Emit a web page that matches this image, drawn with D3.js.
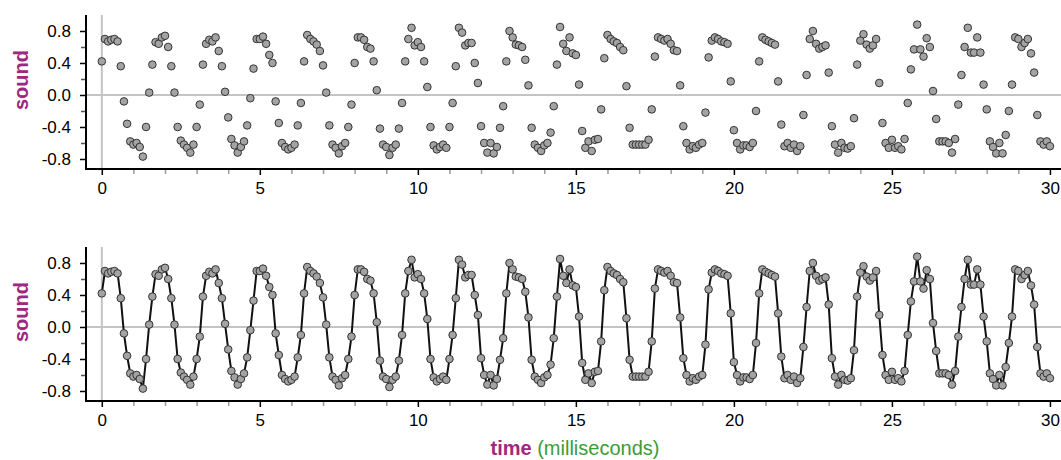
<!DOCTYPE html>
<html lang="en">
<head>
    <meta charset="UTF-8">
    <title>Sound samples</title>
    <script src="https://d3js.org/d3.v7.min.js"></script>
    <style>
        body { margin: 0; padding: 0; background: #fff; }
        svg { display: block; font-family: "Liberation Sans", Arial, sans-serif; }
        .tick text { font-size: 17px; fill: #000; }
    </style>
</head>
<body>
    <svg id="chart" width="1061" height="460"></svg>

    <script>
        // time between readings, in milliseconds
        const sampleStep = 0.1;

        // sound readings, one per sample (10 per row = 1 ms)
        const sound = [
            0.42, 0.70, 0.67, 0.69, 0.70, 0.67, 0.36, -0.08, -0.36, -0.58,
            -0.62, -0.60, -0.65, -0.77, -0.40, 0.03, 0.38, 0.66, 0.64, 0.72,
            0.74, 0.60, 0.36, 0.03, -0.40, -0.57, -0.62, -0.66, -0.72, -0.62,
            -0.40, -0.12, 0.38, 0.64, 0.69, 0.67, 0.72, 0.55, 0.36, 0.04,
            -0.28, -0.55, -0.63, -0.72, -0.65, -0.58, -0.38, -0.04, 0.33, 0.70,
            0.70, 0.73, 0.64, 0.50, 0.40, -0.08, -0.35, -0.60, -0.65, -0.68,
            -0.66, -0.62, -0.38, -0.10, 0.42, 0.75, 0.70, 0.67, 0.63, 0.55,
            0.37, 0.03, -0.38, -0.62, -0.66, -0.73, -0.64, -0.60, -0.40, -0.12,
            0.40, 0.72, 0.72, 0.69, 0.60, 0.58, 0.42, 0.06, -0.42, -0.62,
            -0.65, -0.75, -0.66, -0.62, -0.42, -0.10, 0.42, 0.70, 0.84, 0.62,
            0.66, 0.60, 0.42, 0.10, -0.40, -0.63, -0.68, -0.65, -0.62, -0.66,
            -0.40, -0.10, 0.36, 0.84, 0.78, 0.62, 0.65, 0.65, 0.40, 0.15,
            -0.39, -0.60, -0.72, -0.60, -0.73, -0.65, -0.41, -0.14, 0.42, 0.80,
            0.72, 0.63, 0.62, 0.60, 0.44, 0.12, -0.41, -0.62, -0.66, -0.70,
            -0.63, -0.60, -0.47, -0.14, 0.38, 0.85, 0.64, 0.55, 0.72, 0.52,
            0.50, 0.13, -0.45, -0.66, -0.58, -0.70, -0.56, -0.55, -0.18, 0.46,
            0.75, 0.70, 0.67, 0.65, 0.60, 0.56, 0.11, -0.41, -0.62, -0.62,
            -0.62, -0.62, -0.62, -0.56, -0.18, 0.48, 0.72, 0.70, 0.68, 0.70,
            0.64, 0.56, 0.55, 0.12, -0.39, -0.60, -0.68, -0.64, -0.66, -0.62,
            -0.60, -0.22, 0.47, 0.68, 0.72, 0.70, 0.67, 0.66, 0.64, 0.17,
            -0.44, -0.60, -0.68, -0.63, -0.63, -0.65, -0.60, -0.20, 0.42, 0.72,
            0.69, 0.67, 0.65, 0.63, 0.17, -0.37, -0.64, -0.60, -0.66, -0.62,
            -0.70, -0.64, -0.25, 0.25, 0.70, 0.80, 0.64, 0.58, 0.60, 0.62,
            0.28, -0.39, -0.62, -0.72, -0.60, -0.66, -0.67, -0.64, -0.29, 0.38,
            0.68, 0.76, 0.63, 0.58, 0.62, 0.70, 0.15, -0.35, -0.60, -0.66,
            -0.56, -0.66, -0.64, -0.68, -0.55, -0.10, 0.32, 0.57, 0.88, 0.57,
            0.48, 0.71, 0.60, 0.05, -0.30, -0.58, -0.58, -0.58, -0.60, -0.72,
            -0.55, -0.12, 0.25, 0.60, 0.84, 0.53, 0.53, 0.72, 0.53, 0.13,
            -0.18, -0.58, -0.65, -0.73, -0.60, -0.73, -0.50, -0.20, 0.13, 0.72,
            0.70, 0.60, 0.65, 0.70, 0.52, 0.28, -0.25, -0.58, -0.62, -0.58,
            -0.64
        ];

        const xMajorTicks = [0, 5, 10, 15, 20, 25, 30];
        const yMajorTicks = [-0.8, -0.4, 0.0, 0.4, 0.8];
        const yMinorTicks = [-0.6, -0.2, 0.2, 0.6];

        const data = sound.map((v, i) => ({ time: i * sampleStep, sound: v }));

        const svg = d3.select("#chart");
        const left = 86, right = 1061;
        const magenta = "#a0267f", green = "#3a9c36";

        const x = d3.scaleLinear().domain([-0.5, 30.35]).range([left, right]);
        const xMinorTicks = d3.range(1, 31).filter(d => d % 5 !== 0);

        // two panels: dots only, then dots joined by a line
        const panels = [
            { top: 15, bottom: 169, joined: false, labelY: 80 },
            { top: 247, bottom: 401, joined: true, labelY: 312 }
        ];

        panels.forEach(p => {
            const y = d3.scaleLinear().domain([-0.925, 1.0]).range([p.bottom, p.top]);
            const g = svg.append("g");

            // zero lines
            g.append("line")
                .attr("x1", x(0)).attr("x2", x(0))
                .attr("y1", p.top).attr("y2", p.bottom)
                .attr("stroke", "#c4c4c4").attr("stroke-width", 2);
            g.append("line")
                .attr("x1", left).attr("x2", right)
                .attr("y1", y(0)).attr("y2", y(0))
                .attr("stroke", "#c4c4c4").attr("stroke-width", 2);

            // minor ticks
            g.append("g")
                .attr("transform", `translate(0,${p.bottom})`)
                .call(d3.axisBottom(x).tickValues(xMinorTicks).tickFormat("").tickSize(5).tickSizeOuter(0))
                .call(a => a.select(".domain").remove())
                .call(a => a.selectAll("line").attr("stroke", "#9a9a9a").attr("stroke-width", 1.5));
            g.append("g")
                .attr("transform", `translate(${left},0)`)
                .call(d3.axisLeft(y).tickValues(yMinorTicks).tickFormat("").tickSize(5).tickSizeOuter(0))
                .call(a => a.select(".domain").remove())
                .call(a => a.selectAll("line").attr("stroke", "#555").attr("stroke-width", 1.5));

            // major ticks and labels
            g.append("g")
                .attr("transform", `translate(0,${p.bottom})`)
                .call(d3.axisBottom(x).tickValues(xMajorTicks).tickFormat(d3.format("d")).tickSize(6).tickSizeOuter(0).tickPadding(7))
                .call(a => a.select(".domain").remove())
                .call(a => a.selectAll("line").attr("stroke", "#000").attr("stroke-width", 1.5));
            g.append("g")
                .attr("transform", `translate(${left},0)`)
                .call(d3.axisLeft(y).tickValues(yMajorTicks).tickFormat(d => d.toFixed(1)).tickSize(6).tickSizeOuter(0).tickPadding(9))
                .call(a => a.select(".domain").remove())
                .call(a => a.selectAll("line").attr("stroke", "#000").attr("stroke-width", 1.5));

            // axis lines
            g.append("path")
                .attr("d", `M${left},${p.top}V${p.bottom}H${right}`)
                .attr("fill", "none").attr("stroke", "#000").attr("stroke-width", 2);

            if (p.joined) {
                g.append("path")
                    .datum(data)
                    .attr("fill", "none")
                    .attr("stroke", "#111")
                    .attr("stroke-width", 2)
                    .attr("d", d3.line().x(d => x(d.time)).y(d => y(d.sound)));
            }

            g.selectAll("circle")
                .data(data)
                .join("circle")
                .attr("cx", d => x(d.time))
                .attr("cy", d => y(d.sound))
                .attr("r", 3.8)
                .attr("fill", "#a3a3a3")
                .attr("stroke", "#333")
                .attr("stroke-width", 1);

            // y label
            svg.append("text")
                .attr("transform", `translate(28,${p.labelY}) rotate(-90)`)
                .attr("text-anchor", "middle")
                .attr("font-size", 20)
                .attr("font-weight", "bold")
                .attr("fill", magenta)
                .text("sound");
        });

        // x label
        const xl = svg.append("text")
            .attr("x", 575)
            .attr("y", 455)
            .attr("text-anchor", "middle")
            .attr("font-size", 20);
        xl.append("tspan").attr("font-weight", "bold").attr("fill", magenta).text("time");
        xl.append("tspan").attr("fill", green).text(" (milliseconds)");
    </script>
</body>
</html>
